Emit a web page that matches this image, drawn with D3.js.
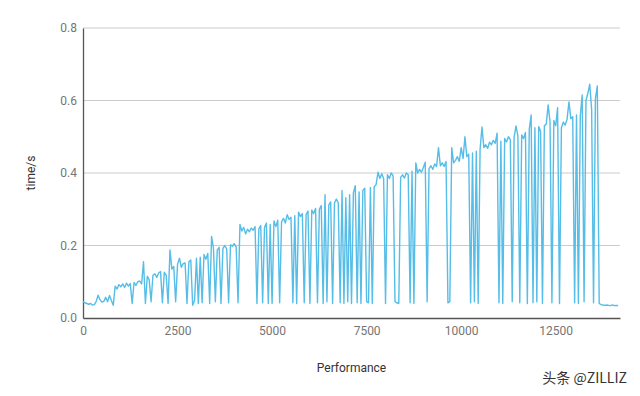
<!DOCTYPE html>
<html>
<head>
<meta charset="utf-8">
<script src="https://cdn.jsdelivr.net/npm/d3@7"></script>
<style>
  body { margin: 0; background: #fff; }
  text { font-family: Roboto, "Noto Sans", sans-serif; }
</style>
</head>
<body>
<svg id="chart" width="640" height="396"></svg>
<script>
// sampled every 50 units of "Performance"
const xStep = 50;
const times = [
  0.045,0.042,0.040,0.038,0.040,0.036,0.037,0.046,0.063,0.050,
  0.044,0.046,0.057,0.045,0.062,0.048,0.035,0.088,0.080,0.092,
  0.086,0.094,0.084,0.096,0.088,0.095,0.040,0.098,0.090,0.100,
  0.102,0.094,0.155,0.040,0.115,0.106,0.045,0.118,0.122,0.112,
  0.124,0.128,0.042,0.126,0.118,0.040,0.188,0.135,0.142,0.045,
  0.148,0.165,0.140,0.150,0.152,0.040,0.155,0.160,0.035,0.048,
  0.165,0.040,0.168,0.042,0.175,0.162,0.178,0.040,0.225,0.192,
  0.045,0.188,0.195,0.040,0.192,0.200,0.190,0.042,0.202,0.198,
  0.205,0.196,0.042,0.258,0.240,0.250,0.232,0.245,0.238,0.248,
  0.242,0.252,0.040,0.246,0.255,0.042,0.250,0.262,0.040,0.258,
  0.040,0.268,0.252,0.270,0.042,0.265,0.275,0.262,0.285,0.272,
  0.278,0.042,0.282,0.040,0.292,0.280,0.288,0.042,0.285,0.295,
  0.040,0.298,0.288,0.302,0.042,0.300,0.310,0.040,0.340,0.045,
  0.312,0.320,0.040,0.318,0.328,0.318,0.042,0.352,0.040,0.332,
  0.045,0.340,0.040,0.345,0.365,0.042,0.348,0.040,0.352,0.358,
  0.045,0.042,0.360,0.040,0.362,0.368,0.402,0.385,0.398,0.384,
  0.040,0.395,0.385,0.400,0.392,0.045,0.042,0.040,0.388,0.395,
  0.386,0.400,0.395,0.042,0.405,0.040,0.428,0.400,0.410,0.402,
  0.415,0.430,0.045,0.412,0.420,0.410,0.425,0.418,0.470,0.420,
  0.428,0.418,0.432,0.042,0.045,0.470,0.428,0.435,0.445,0.432,
  0.470,0.440,0.500,0.445,0.452,0.042,0.455,0.045,0.460,0.040,
  0.465,0.527,0.470,0.478,0.468,0.485,0.478,0.490,0.482,0.510,
  0.042,0.488,0.040,0.495,0.486,0.500,0.492,0.045,0.498,0.530,
  0.502,0.042,0.505,0.495,0.512,0.040,0.520,0.560,0.042,0.525,
  0.045,0.528,0.515,0.040,0.530,0.535,0.588,0.540,0.042,0.545,
  0.530,0.580,0.040,0.525,0.540,0.532,0.548,0.596,0.550,0.555,
  0.042,0.560,0.040,0.558,0.615,0.045,0.600,0.620,0.645,0.575,
  0.042,0.605,0.640,0.040,0.037,0.036,0.035,0.036,0.035,0.034,
  0.036,0.034,0.035,0.034
];
const xTicks = [0, 2500, 5000, 7500, 10000, 12500];
const yTicks = [0, 0.2, 0.4, 0.6, 0.8];

const svg = d3.select("#chart");
const m = {left: 83, right: 620, top: 28, bottom: 318};

const x = d3.scaleLinear().domain([0, 14200]).range([m.left, m.right]);
const y = d3.scaleLinear().domain([0, 0.8]).range([m.bottom, m.top]);

// grid
svg.append("g")
  .selectAll("line")
  .data(yTicks.slice(1))
  .join("line")
  .attr("x1", m.left).attr("x2", m.right)
  .attr("y1", d => y(d)).attr("y2", d => y(d))
  .attr("stroke", "#cccccc").attr("stroke-width", 1);

// y axis
const yAxis = svg.append("g")
  .attr("transform", `translate(${m.left},0)`)
  .call(d3.axisLeft(y).tickValues(yTicks).tickFormat(d3.format(".1f")).tickSize(0).tickPadding(6));
yAxis.select(".domain").attr("stroke", "#555").attr("stroke-width", 1.3);
yAxis.selectAll("text").attr("fill", "#757575").attr("font-size", "12px");

// x axis
const xAxis = svg.append("g")
  .attr("transform", `translate(0,${m.bottom})`)
  .call(d3.axisBottom(x).tickValues(xTicks).tickFormat(d3.format("d")).tickSize(0).tickPadding(8));
xAxis.select(".domain").attr("stroke", "#555").attr("stroke-width", 1.3);
xAxis.selectAll("text").attr("fill", "#757575").attr("font-size", "12px");

// line
const line = d3.line()
  .x((d, i) => x(i * xStep))
  .y(d => y(d));

svg.append("path")
  .datum(times)
  .attr("fill", "none")
  .attr("stroke", "#55bde7")
  .attr("stroke-width", 1.4)
  .attr("stroke-linejoin", "round")
  .attr("d", line);

// axis titles
svg.append("text")
  .attr("x", (m.left + m.right) / 2).attr("y", 372)
  .attr("text-anchor", "middle")
  .attr("font-size", "12px").attr("fill", "#333")
  .text("Performance");

svg.append("text")
  .attr("transform", `translate(35,${(m.top + m.bottom) / 2}) rotate(-90)`)
  .attr("text-anchor", "middle")
  .attr("font-size", "12px").attr("fill", "#333")
  .text("time/s");

// watermark
svg.append("text")
  .attr("x", 627).attr("y", 383)
  .attr("text-anchor", "end")
  .attr("font-size", "14px").attr("fill", "#333")
  .style("font-family", "'Noto Sans CJK SC', 'Noto Sans', sans-serif")
  .text("头条 @ZILLIZ");
</script>
</body>
</html>
